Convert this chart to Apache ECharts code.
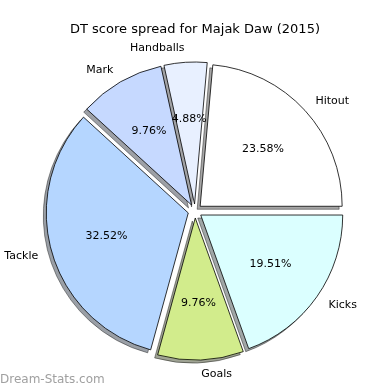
<!DOCTYPE html>
<html>
<head>
<meta charset="utf-8">
<script src="https://cdn.jsdelivr.net/npm/echarts@6/dist/echarts.min.js"></script>
<style>html,body{margin:0;padding:0;background:#fff}#c{width:390px;height:390px}</style>
</head>
<body>
<div id="c"></div>
<script>
var categories = ['Hitout', 'Handballs', 'Mark', 'Tackle', 'Goals', 'Kicks'];
var dtPoints = [29, 6, 12, 40, 12, 24];
var sliceColors = ['#ffffff', '#e8f0ff', '#c6d9ff', '#b5d6ff', '#d2ec8c', '#dbffff'];
var titleText = 'DT score spread for Majak Daw (2015)';
var watermark = 'Dream-Stats.com';

var total = dtPoints.reduce(function (a, b) { return a + b; }, 0);
var R = 142;
var OFF = 7;
var FONT = 'DejaVu Sans';

function shadowColor(hex) {
  var r = parseInt(hex.substr(1, 2), 16), g = parseInt(hex.substr(3, 2), 16), b = parseInt(hex.substr(5, 2), 16);
  return 'rgba(' + Math.round(r * 0.3) + ',' + Math.round(g * 0.3) + ',' + Math.round(b * 0.3) + ',0.5)';
}

function makeData(kind) {
  return categories.map(function (name, i) {
    var item = { name: name, value: dtPoints[i], selected: true };
    if (kind === 'main') {
      item.itemStyle = { color: sliceColors[i], borderColor: '#000', borderWidth: 0.8 };
    } else if (kind === 'shadow') {
      item.itemStyle = { color: shadowColor(sliceColors[i]), borderColor: 'rgba(0,0,0,0.5)', borderWidth: 0.8 };
    } else {
      item.itemStyle = { color: 'rgba(0,0,0,0)', borderWidth: 0 };
    }
    return item;
  });
}

var common = {
  type: 'pie',
  startAngle: 0,
  clockwise: false,
  selectedMode: 'multiple',
  selectedOffset: OFF,
  avoidLabelOverlap: false,
  animation: false,
  silent: true,
  emphasis: { disabled: true },
  select: { disabled: false }
};

var chart = echarts.init(document.getElementById('c'), null, { renderer: 'canvas' });
chart.setOption({
  backgroundColor: '#ffffff',
  animation: false,
  title: {
    text: titleText,
    left: 'center',
    top: 18,
    textStyle: { fontFamily: FONT, fontSize: 13, fontWeight: 'normal', color: '#000' }
  },
  graphic: [{
    type: 'text',
    left: 0,
    top: 374,
    style: { text: watermark, fill: '#a0a0a0', font: '12px "DejaVu Sans"' }
  }],
  series: [
    Object.assign({}, common, {
      name: 'shadow',
      center: [192, 214],
      radius: [0, R],
      z: 1,
      label: { show: false },
      labelLine: { show: false },
      data: makeData('shadow')
    }),
    Object.assign({}, common, {
      name: 'main',
      center: [195, 211],
      radius: [0, R],
      z: 2,
      label: {
        show: true,
        position: 'outside',
        distanceToLabelLine: 0,
        formatter: '{b}',
        fontFamily: FONT,
        fontSize: 11,
        color: '#000'
      },
      labelLine: { show: false, length: R * 0.1, length2: 0 },
      data: makeData('main')
    }),
    Object.assign({}, common, {
      name: 'pct',
      center: [195, 211],
      radius: [0, R * 1.2 - 6],
      z: 3,
      label: {
        show: true,
        position: 'inside',
        formatter: function (p) { return (p.value / total * 100).toFixed(2) + '%'; },
        fontFamily: FONT,
        fontSize: 11,
        color: '#000'
      },
      labelLine: { show: false },
      data: makeData('pct')
    })
  ]
});
</script>
</body>
</html>
